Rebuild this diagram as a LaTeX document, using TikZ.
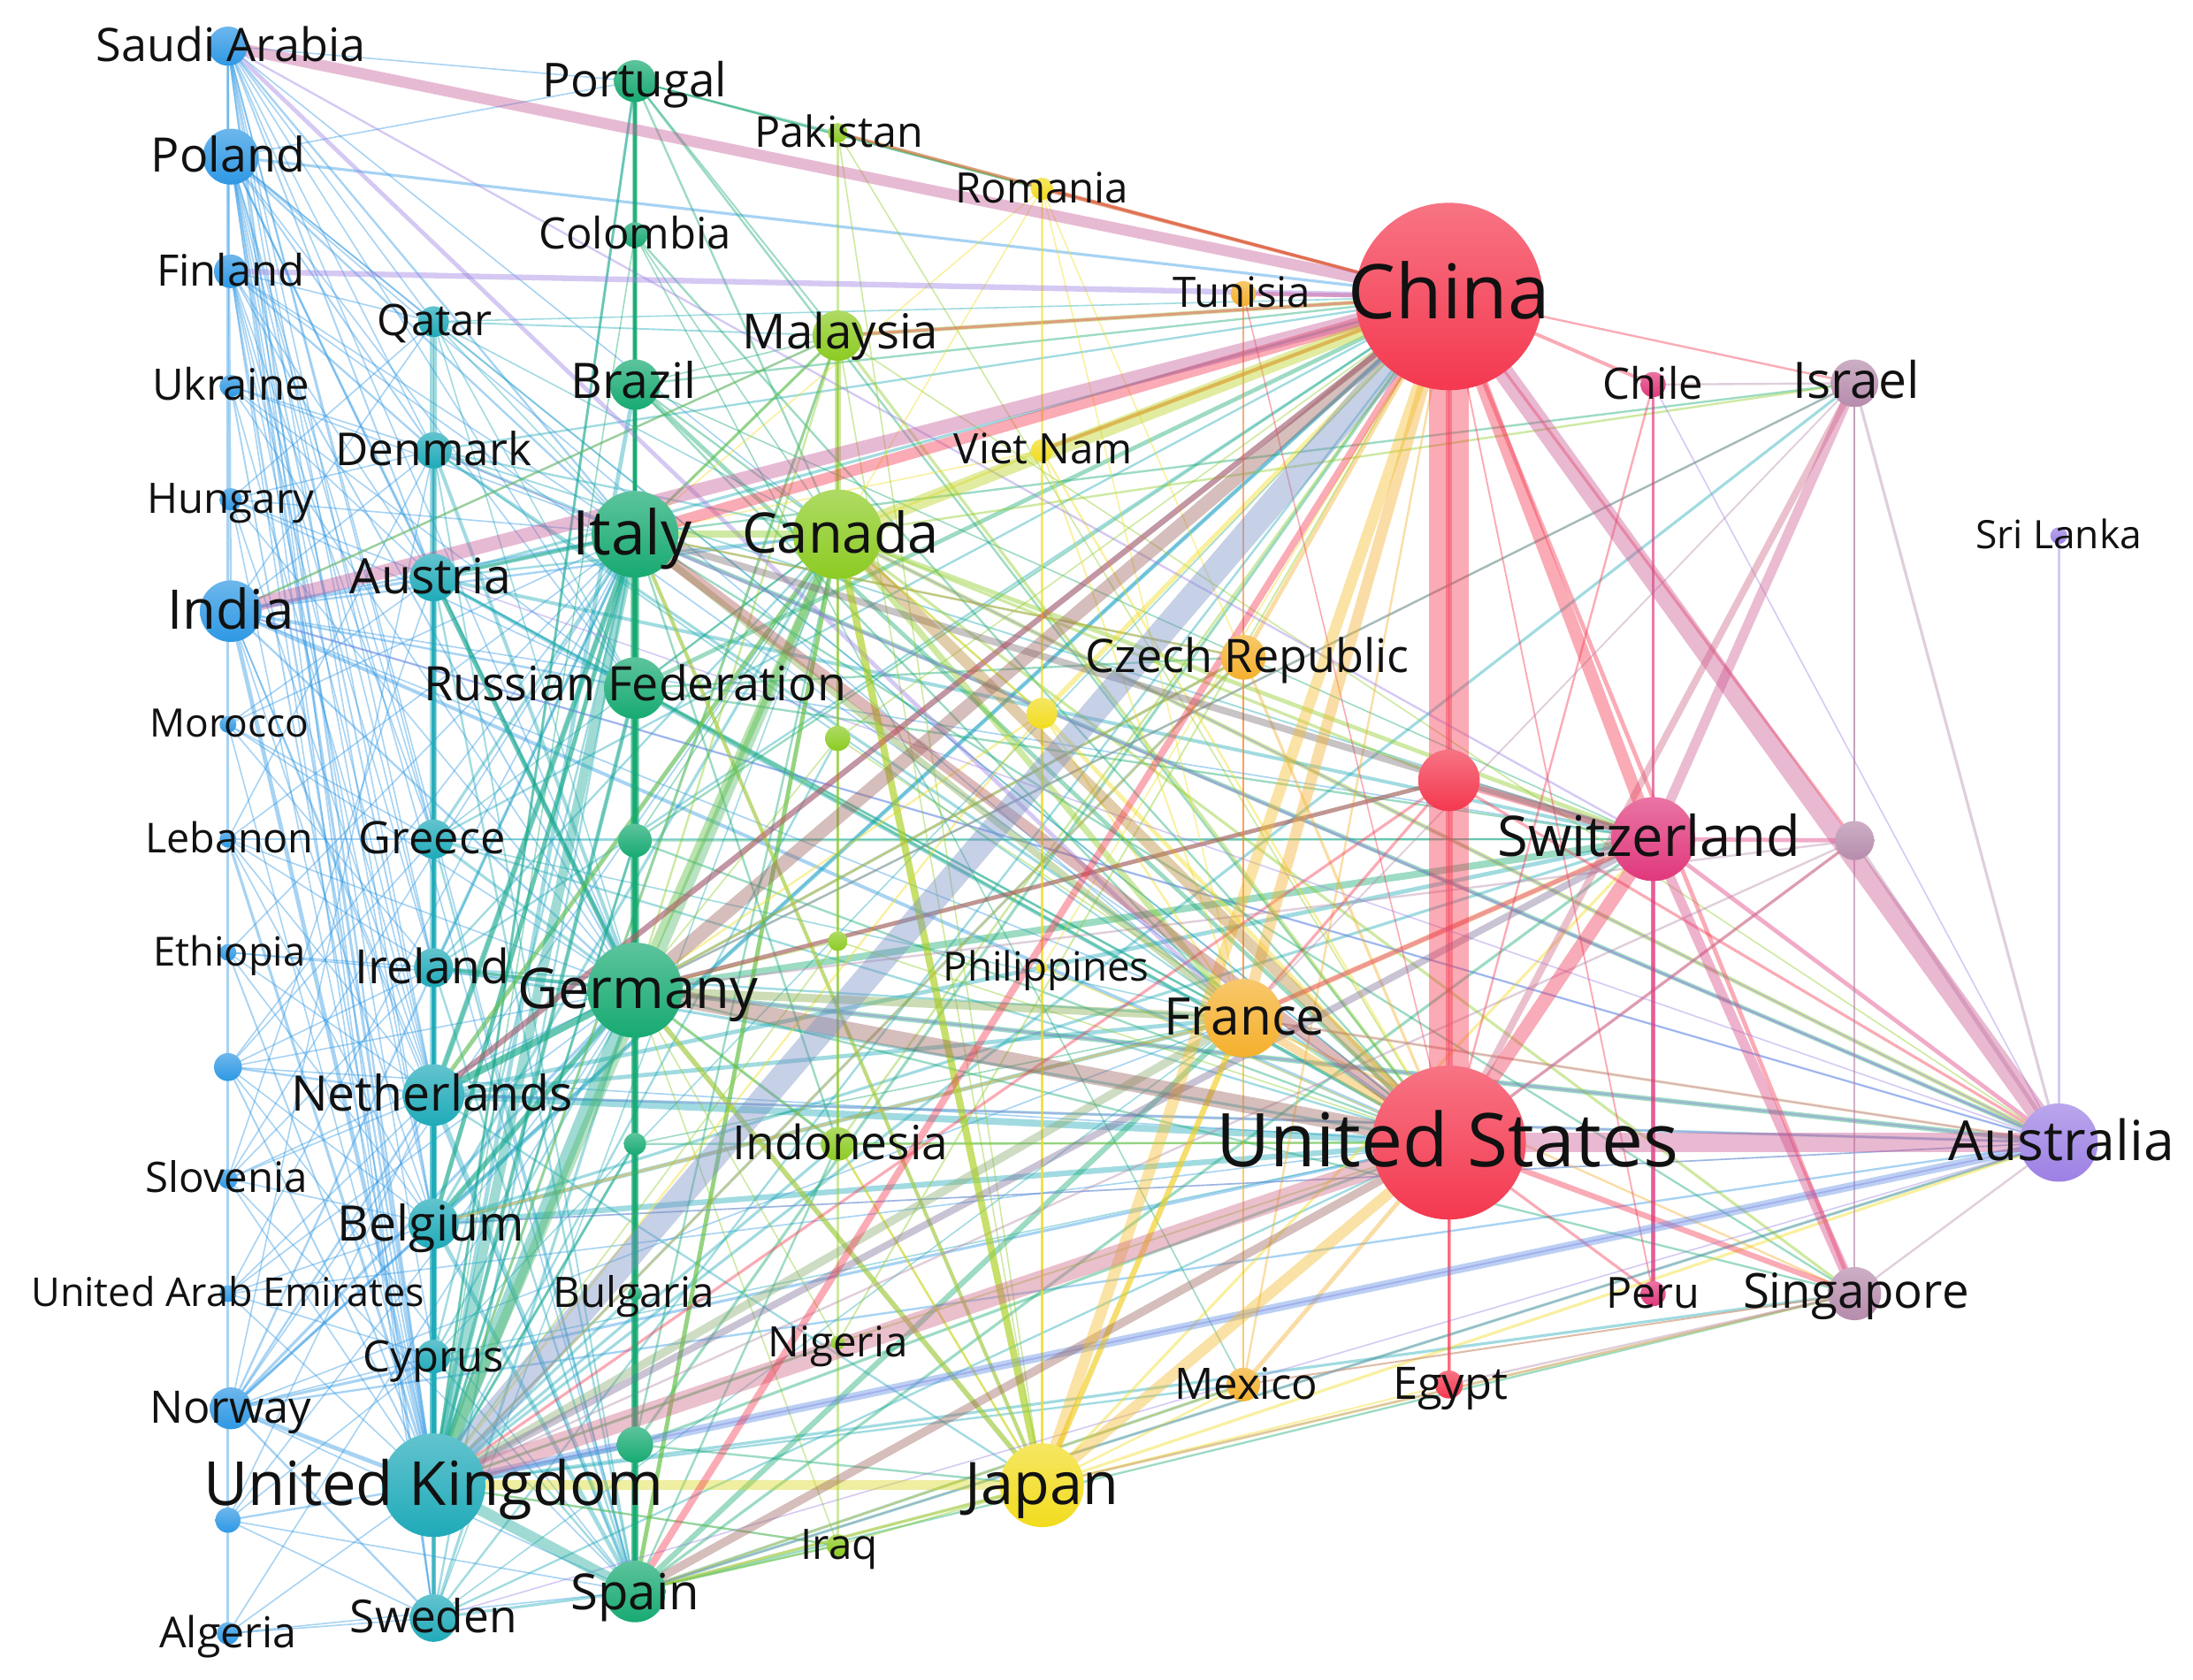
\documentclass[tikz,border=0pt]{standalone}
\usepackage{fontspec}
\setmainfont{Open Sans}
\pgfdeclarelayer{bg}
\pgfsetlayers{bg,main}
\definecolor{cBlue}{HTML}{2E98E4}
\definecolor{cTeal}{HTML}{1FAAB9}
\definecolor{cGreen}{HTML}{17AA72}
\definecolor{cLime}{HTML}{8CCB22}
\definecolor{cYel}{HTML}{F2DC1E}
\definecolor{cOra}{HTML}{F5B02C}
\definecolor{cRed}{HTML}{F4384F}
\definecolor{cMag}{HTML}{E0387C}
\definecolor{cMau}{HTML}{B68CAC}
\definecolor{cPur}{HTML}{9C80E4}
\definecolor{txt}{HTML}{111111}
\tikzset{
  nd/.style={circle, inner sep=0pt, draw=none},
  lb/.style={text=txt, inner sep=0pt},
  edge/.style={draw=#1, opacity=0.42, line cap=butt},
}
\newcommand\mkcty[9]{%
  \node[nd, top color=#5!70!white, bottom color=#5, minimum size=2*#4] (#1) at (#2,#3) {};
  \node[lb, font=\fontsize{#7}{#7}\selectfont, text height=0.72*#7, text depth=0.06*#7] (l#1) at (#8,#9) {#6};}
\newcommand\mkblob[5]{%
  \node[nd, top color=#5!70!white, bottom color=#5, minimum size=2*#4] (#1) at (#2,#3) {};}
\newcommand\fan[3]{\foreach \tgt/\lw in {#3} \draw[edge=#2, line width=\lw] (#1.center) -- (\tgt.center);}
\newcommand\band[4]{\draw[edge=#4, line width=#3] (#1.center) -- (#2.center);}
\begin{document}
\begin{tikzpicture}[x=1pt,y=-1pt]
\useasboundingbox (0,0) rectangle (1568,1201);
% ---------- nodes (blue column)
\mkcty{sa}{163}{33}{14}{cBlue}{Saudi Arabia}{33}{165}{33}
\mkcty{pol}{165}{112}{20}{cBlue}{Poland}{34}{163}{112}
\mkcty{fin}{165}{194}{12}{cBlue}{Finland}{31}{165}{194}
\mkcty{ukr}{165}{276}{8}{cBlue}{Ukraine}{31}{165}{276}
\mkcty{hun}{165}{357}{8}{cBlue}{Hungary}{30}{165}{357}
\mkcty{ind}{165}{437}{22}{cBlue}{India}{39}{165}{437}
\mkcty{mor}{163}{518}{6}{cBlue}{Morocco}{28}{164}{518}
\mkcty{leb}{163}{600}{6}{cBlue}{Lebanon}{29.5}{164}{600}
\mkcty{eth}{163}{681}{6}{cBlue}{Ethiopia}{28.7}{164}{681}
\mkblob{b1}{163}{763}{10}{cBlue}
\mkcty{slo}{163}{843}{7}{cBlue}{Slovenia}{30}{162}{843}
\mkcty{uae}{163}{925}{6}{cBlue}{United Arab Emirates}{28.4}{163}{925}
\mkcty{nor}{165}{1007}{15}{cBlue}{Norway}{32}{165}{1007}
\mkblob{b2}{163}{1087}{9}{cBlue}
\mkcty{alg}{163}{1168}{8}{cBlue}{Algeria}{30.5}{163}{1168}
% teal column
\mkcty{qat}{310}{230}{11}{cTeal}{Qatar}{31}{311}{230}
\mkcty{den}{310}{322}{13}{cTeal}{Denmark}{32.4}{310}{322}
\mkcty{aut}{310}{413}{17}{cTeal}{Austria}{35}{308}{413}
\mkcty{gre}{310}{600}{14}{cTeal}{Greece}{32}{309}{600}
\mkcty{ire}{310}{692}{14}{cTeal}{Ireland}{33.8}{309}{692}
\mkcty{net}{310}{783}{22}{cTeal}{Netherlands}{35}{309}{783}
\mkcty{bel}{310}{875}{18}{cTeal}{Belgium}{35}{308}{876}
\mkcty{cyp}{310}{970}{12}{cTeal}{Cyprus}{31}{310}{971}
\mkcty{uk}{310}{1062}{37}{cTeal}{United Kingdom}{43.5}{310}{1062}
\mkcty{swe}{310}{1157}{17}{cTeal}{Sweden}{32.5}{310}{1157}
% green column
\mkcty{por}{454}{58}{15}{cGreen}{Portugal}{33.5}{454}{58}
\mkcty{col}{454}{168}{9}{cGreen}{Colombia}{31}{454}{168}
\mkcty{bra}{454}{275}{18}{cGreen}{Brazil}{35}{453}{273}
\mkcty{ita}{454}{382}{31}{cGreen}{Italy}{44}{452}{382}
\mkcty{rus}{454}{492}{22}{cGreen}{Russian Federation}{34}{454}{490}
\mkblob{g1}{454}{601}{12}{cGreen}
\mkcty{ger}{454}{708}{34}{cGreen}{Germany}{40}{456}{708}
\mkblob{g2}{454}{818}{8}{cGreen}
\mkcty{bul}{454}{925}{5}{cGreen}{Bulgaria}{30}{453}{925}
\mkblob{g3}{454}{1033}{13}{cGreen}
\mkcty{spa}{454}{1138}{22}{cGreen}{Spain}{35.6}{454}{1139}
% lime column
\mkcty{pak}{599}{95}{7}{cLime}{Pakistan}{30.6}{600}{95}
\mkcty{mal}{599}{240}{18}{cLime}{Malaysia}{34.5}{601}{238}
\mkcty{can}{599}{382}{32}{cLime}{Canada}{40}{601}{382}
\mkblob{y1}{599}{528}{9}{cLime}
\mkblob{y2}{599}{673}{7}{cLime}
\mkcty{indo}{599}{818}{12}{cLime}{Indonesia}{33.7}{601}{818}
\mkcty{nig}{599}{960}{5}{cLime}{Nigeria}{30}{599}{960}
\mkcty{irq}{599}{1105}{8}{cLime}{Iraq}{30}{600}{1105}
% yellow column
\mkcty{rom}{745}{135}{8}{cYel}{Romania}{30}{745}{135}
\mkcty{vie}{745}{322}{8}{cYel}{Viet Nam}{30}{746}{322}
\mkblob{y3}{745}{510}{11}{cYel}
\mkcty{phi}{745}{692}{4}{cYel}{Philippines}{28.8}{748}{692}
\mkcty{jap}{745}{1062}{30}{cYel}{Japan}{42}{745}{1062}
% orange column
\mkcty{tun}{889}{210}{9}{cOra}{Tunisia}{30}{888}{210}
\mkcty{cze}{889}{470}{16}{cOra}{Czech Republic}{33}{892}{470}
\mkcty{fra}{889}{728}{28}{cOra}{France}{37}{890}{728}
\mkcty{mex}{889}{990}{12}{cOra}{Mexico}{31}{891}{990}
% red column
\mkcty{chn}{1036}{212}{67}{cRed}{China}{54}{1036}{210}
\mkblob{r1}{1036}{558}{22}{cRed}
\mkcty{usa}{1036}{817}{55}{cRed}{United States}{53}{1035}{817}
\mkcty{egy}{1036}{990}{10}{cRed}{Egypt}{32}{1037}{990}
% magenta column
\mkcty{chi}{1182}{275}{9}{cMag}{Chile}{31}{1182}{275}
\mkcty{swi}{1182}{600}{30}{cMag}{Switzerland}{40}{1179}{599}
\mkcty{per}{1182}{925}{9}{cMag}{Peru}{30.7}{1182}{925}
% mauve column
\mkcty{isr}{1326}{274}{17}{cMau}{Israel}{36}{1327}{273}
\mkblob{m1}{1326}{601}{14}{cMau}
\mkcty{sin}{1326}{925}{19}{cMau}{Singapore}{34.5}{1327}{924}
% purple column
\mkcty{sri}{1472}{383}{6}{cPur}{Sri Lanka}{28}{1472}{383}
\mkcty{aus}{1472}{817}{28}{cPur}{Australia}{39.5}{1474}{817}

\begin{pgfonlayer}{bg}
\fill[white] (0,0) rectangle (1568,1201);
% ---------- thin fans
\fan{sa}{cBlue}{qat/1, den/1, aut/1.2, gre/1, ire/1, net/1, bel/1, ita/1.5, ger/1, uk/1.5, rus/1, por/1, can/1, spa/1, swe/1, ind/1.5}
\fan{pol}{cBlue}{qat/1, den/1.2, aut/1.2, gre/1, ire/1, net/1.2, bel/1, ita/1.5, ger/1.5, uk/2, spa/1, swe/1, cyp/1, rus/1, por/1, fra/1, usa/1, chn/2}
\fan{fin}{cBlue}{qat/1, den/1.5, aut/1, ita/1, ger/1.2, uk/1.5, net/1, swe/1, gre/1, bel/1, usa/1, ire/1}
\fan{ukr}{cBlue}{den/1, aut/1, ger/1, uk/1.2, net/1, ita/1, rus/1}
\fan{hun}{cBlue}{aut/1, ger/1, uk/1, ita/1, net/1, rus/1, den/1, qat/1}
\fan{ind}{cBlue}{aut/2, ita/1.5, ger/1.5, uk/3, usa/2.5, net/1, can/1.5, rus/1.5, fra/1, spa/1, bel/1, den/1, qat/1, mal/1.5, swi/1, aus/1.5}
\fan{mor}{cBlue}{aut/1, gre/1, ire/1, ger/1, uk/1, ita/1}
\fan{leb}{cBlue}{uk/2, ire/1, gre/1, ger/1, net/1, bel/1, ita/1, den/1}
\fan{eth}{cBlue}{uk/1.2, net/1, bel/1, ire/1, ger/1, ita/1}
\fan{b1}{cBlue}{uk/1.2, net/1.5, ger/1, bel/1, ire/1, ita/1, spa/1, gre/1, usa/1}
\fan{slo}{cBlue}{uk/1, net/1, bel/1, ger/1, ita/1, spa/1, aut/1, ire/1}
\fan{uae}{cBlue}{uk/1, bel/1, cyp/1, ger/1, net/1, ita/1, usa/1}
\fan{nor}{cBlue}{uk/3, ger/2, net/1.5, bel/1.5, swe/1.5, ita/1.5, spa/1, usa/2, chn/2, can/1, aus/1.5, den/1, cyp/1, fra/1}
\fan{b2}{cBlue}{uk/1.5, swe/1, spa/1, ger/1, net/1, cyp/1}
\fan{alg}{cBlue}{uk/1, swe/1, spa/1, ger/1}
\fan{qat}{cTeal}{ger/1, ita/1, uk/1, usa/1, chn/1, mal/1.2, can/1, rus/1}
\fan{den}{cTeal}{ger/2.5, ita/2, uk/1.5, usa/2, chn/1.5, can/1.5, swi/1.2, fra/1.2, spa/1.2, net/1, swe/1}
\fan{aut}{cTeal}{ger/3.5, ita/3, uk/2.5, usa/2.5, chn/2, swi/2.5, can/1.5, spa/1.5, fra/1.5, net/1.5, rus/1.5}
\fan{gre}{cTeal}{ger/2, ita/2, uk/2, usa/1.5, chn/1.5, swi/1.5, spa/1.5, can/1, fra/1, cyp/1.5, g1/1}
\fan{ire}{cTeal}{ger/2.5, uk/2, usa/2, chn/1.5, ita/2, spa/1.5, can/1.5, fra/1.5, net/1}
\fan{net}{cTeal}{ger/5, usa/5, chn/4, ita/4, can/3, fra/3, spa/3, swi/3, aus/2, jap/1.5, bel/3, swe/2}
\fan{bel}{cTeal}{ger/4, usa/4, chn/3, ita/3, spa/3, fra/3, can/2, swi/2, aus/1, cyp/1.5}
\fan{cyp}{cTeal}{uk/2, ger/1.5, ita/1.5, spa/1.5, usa/1, gre/1.5, chn/1}
\fan{swe}{cTeal}{uk/3, ger/2, ita/1.5, spa/2, usa/1.5, chn/1.5, can/1, fra/1}
\fan{uk}{cTeal}{ire/2, bel/3, rus/3, bra/3, por/2, mal/2, indo/2, nig/2, irq/1.5, isr/2, cze/2, mex/1.5, sin/2, g3/3, g2/2, bul/2, g1/2, y1/1.5}
\fan{por}{cGreen}{chn/1.5, usa/1.5, spa/2, ita/2, ger/1.5, can/1.5, uk/1.5, mal/1.2, rom/1, pak/1}
\fan{col}{cGreen}{spa/1.5, usa/1.5, ita/1, ger/1, can/1, mex/1, uk/1}
\fan{bra}{cGreen}{usa/3, ita/2, ger/2, spa/2, can/1.5, chn/1.5, fra/1.5, mal/1, swi/1}
\fan{ita}{cGreen}{net/3, aut/2, bel/3, isr/1.5, sin/1.5, cze/1.5, indo/1.5, rus/3, jap/2.5, aus/3, mal/2}
\fan{rus}{cGreen}{usa/2, chn/3, ger/3, can/1.5, fra/1.5, uk/2, cze/1.5, spa/1.5, swi/1.5}
\fan{g1}{cGreen}{usa/1.5, chn/1.5, ger/1.5, uk/1.5, swi/1.5, can/1}
\fan{ger}{cGreen}{spa/5, swi/5, net/5, aus/3.5, jap/3.5, r1/3, ire/2, sin/1.5, isr/1.5, cze/2, indo/2, rus/2, aut/3, bel/3}
\fan{g2}{cGreen}{usa/1.5, uk/1.5, spa/1.5, fra/1}
\fan{g3}{cGreen}{usa/2, chn/2, can/1.5, jap/1.5}
\fan{spa}{cGreen}{fra/4, can/3, jap/2, swi/2, aus/2, mex/2, por/2, irq/1.5, sin/1.5, indo/1.5}
\fan{can}{cLime}{fra/4.5, jap/5, aus/3, swi/3, net/3, spa/3, sin/2, isr/1.5, y3/1.5, indo/1.5, r1/2}
\fan{mal}{cLime}{chn/3, usa/2, ind/1.5, uk/1.5, aus/1, jap/1, ger/1.5, ita/1.5}
\fan{pak}{cLime}{chn/2, rom/1, usa/1, jap/1}
\fan{indo}{cLime}{usa/1.5, chn/1.5, jap/1.5, mal/1.2, ger/1.2}
\fan{nig}{cLime}{usa/1.2, uk/1.2, chn/1.2, ger/1}
\fan{irq}{cLime}{uk/1.2, jap/1.2, spa/1.2, ger/1}
\fan{y1}{cLime}{usa/1, chn/1, ger/1}
\fan{y2}{cLime}{usa/1, ger/1, uk/1}
\fan{jap}{cYel}{ger/3.5, ita/2.5, spa/2, aus/2, swi/2, sin/2, mex/1.5, egy/1.2, y3/1.5, indo/1.5, phi/1, fra/4}
\fan{rom}{cYel}{chn/2, jap/1, fra/1, ita/1, can/1, cze/1}
\fan{vie}{cYel}{chn/3, usa/1.5, can/1.5, fra/1.2, jap/1.2, ita/1}
\fan{y3}{cYel}{chn/3.5, usa/3, can/1.5, fra/1.5, ger/1.5, uk/1.5}
\fan{phi}{cYel}{usa/1, chn/1}
\fan{fra}{cOra}{swi/4, aus/2, bel/2, cze/1.5, sin/1.5, mex/1.5}
\fan{cze}{cOra}{chn/3, usa/2, ger/1.5, ita/1.5, uk/1.5}
\fan{tun}{cRed}{chn/3, usa/1, fra/1}
\fan{mex}{cOra}{usa/3, chn/1.5, sin/1.2, spa/1}
\fan{chn}{cRed}{chi/2.5, isr/1.5, sin/3, r1/4, m1/2, per/1.2, rom/2.5, pak/2, mal/2, vie/2.5, egy/1}
\fan{usa}{cRed}{sin/4, r1/5, chi/1.5, per/2, egy/2.5, m1/2}
\fan{r1}{cRed}{swi/5, aus/2, ger/3, uk/2, fra/2}
\fan{swi}{cMag}{aus/3, m1/3, per/3, chi/1.5, fra/3}
\fan{isr}{cMau}{aus/2, m1/1.5, chi/1.5, sin/1.2, ger/1.5, fra/1.2}
\fan{m1}{cMau}{aus/3, usa/2, uk/1.5, ger/1.5}
\fan{sin}{cMau}{aus/1.5, egy/1.5, mex/1.2, jap/1.5}
\fan{aus}{cPur}{ger/1.5, uk/1.2, net/1.2, ita/1.2, can/1.2, fra/1.2, den/1, aut/1, bel/1, spa/1, swe/1, ind/1, chi/1, sri/2}
\fan{sa}{cPur}{swi/1.5, fra/3}
% ---------- column lines
\band{sa}{alg}{2}{cBlue}
\band{qat}{uk}{5}{cTeal}
\band{den}{uk}{3}{cTeal}
\band{aut}{uk}{3}{cTeal}
\band{net}{uk}{3}{cTeal}
\band{uk}{swe}{3}{cTeal}
\band{por}{spa}{4}{cGreen}
\band{ita}{ger}{4}{cGreen}
\band{ger}{spa}{3}{cGreen}
\band{pak}{irq}{1.5}{cLime}
\band{mal}{can}{4}{cLime}
\band{rom}{jap}{1.5}{cYel}
\band{tun}{mex}{1.2}{cOra}
\band{usa}{egy}{2}{cRed}
\band{chi}{per}{1.5}{cMag}
\band{swi}{per}{3}{cMag}
\band{isr}{sin}{1}{cMau}
% ---------- thick bands
\band{uk}{ger}{10}{cTeal!55!cGreen}
\band{uk}{ita}{7}{cTeal!55!cGreen}
\band{uk}{spa}{8}{cTeal!55!cGreen}
\band{uk}{can}{7}{cLime!50!cTeal}
\band{uk}{fra}{6}{cOra!50!cTeal}
\band{uk}{aus}{6}{cBlue!55!cPur}
\band{uk}{jap}{7}{cYel!75!cLime}
\band{uk}{swi}{5}{cMag!50!cTeal}
\band{uk}{net}{5}{cTeal}
\band{ger}{ita}{6}{cGreen}
\band{ger}{fra}{6}{cGreen!50!cOra}
\band{ger}{can}{6}{cLime!60!cGreen}
\band{ita}{spa}{5}{cGreen}
\band{ita}{fra}{5}{cGreen!50!cOra}
\band{ita}{can}{5}{cLime}
\band{ita}{swi}{5}{cGreen!50!cMag}
\band{can}{jap}{5}{cLime!50!cYel}
\band{jap}{fra}{4}{cYel!50!cOra}
\band{spa}{usa}{6}{cRed!60!cGreen}
\band{usa}{fra}{6}{cOra}
\band{chn}{fra}{8}{cOra}
\band{usa}{jap}{8}{cOra!80!cYel}
\band{chn}{jap}{8}{cOra!70!cYel}
\band{usa}{can}{8}{cLime!55!cRed}
\band{usa}{ita}{8}{cRed!70!cGreen}
\band{usa}{ger}{12}{cRed!60!cGreen}
\band{usa}{uk}{14}{cMau!60!cRed}
\band{usa}{isr}{5}{cMau!60!cRed}
\band{chn}{spa}{5}{cRed}
\band{chn}{net}{4}{cRed}
\band{chn}{ita}{8}{cRed}
\band{chn}{ger}{10}{cRed!60!cGreen}
\band{chn}{uk}{18}{cMau!55!cBlue}
\band{chn}{can}{10}{cLime!55!cYel}
\band{chn}{fin}{4}{cPur}
\band{chn}{sa}{8}{cRed!50!cPur}
\band{chn}{ind}{10}{cRed!50!cPur}
\band{chn}{swi}{9}{cRed}
\band{usa}{swi}{10}{cRed!80!cMag}
\band{swi}{sin}{7}{cMag!80!cMau}
\band{swi}{isr}{7}{cMag!55!cMau}
\band{chn}{aus}{14}{cRed!55!cPur}
\band{usa}{aus}{14}{cRed!55!cPur}
\band{chn}{usa}{28}{cRed}
\end{pgfonlayer}
\end{tikzpicture}
\end{document}
